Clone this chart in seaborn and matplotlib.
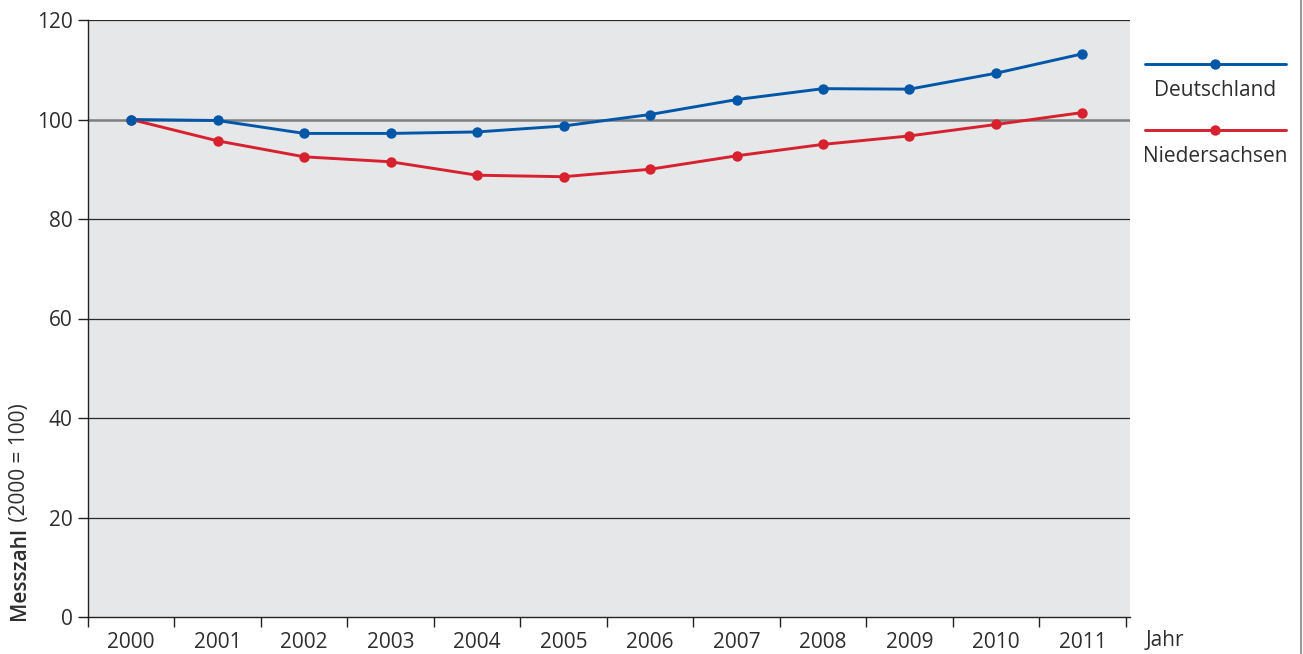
import numpy as np
import pandas as pd
import seaborn as sns
import matplotlib.pyplot as plt
from matplotlib.lines import Line2D
from matplotlib.ticker import FixedLocator

# Data (Messzahl, 2000 = 100)
years = [2000, 2001, 2002, 2003, 2004, 2005, 2006, 2007, 2008, 2009, 2010, 2011]
deutschland = [100.0, 99.8, 97.2, 97.2, 97.5, 98.7, 101.0, 104.0, 106.2, 106.1, 109.3, 113.2]
niedersachsen = [100.0, 95.7, 92.5, 91.5, 88.8, 88.5, 90.0, 92.7, 95.0, 96.7, 99.0, 101.4]
series_names = ["Deutschland", "Niedersachsen"]
y_ticks = [0, 20, 40, 60, 80, 100, 120]

BLUE = "#0057a8"
RED = "#d7212e"
TEXT = "#2e2e2e"


def main():
    sns.set_theme(style="white")
    plt.rcParams["font.family"] = ["Open Sans", "DejaVu Sans"]

    df = pd.DataFrame({
        "pos": list(range(len(years))) * 2,
        "wert": deutschland + niedersachsen,
        "region": [series_names[0]] * len(years) + [series_names[1]] * len(years),
    })

    W, H = 1303, 654
    fig = plt.figure(figsize=(W / 100, H / 100), dpi=100)
    ax = fig.add_axes([88 / W, 1 - 617 / H, (1130 - 88) / W, (617 - 20) / H])
    ax.set_facecolor("#e6e7e9")

    # Gridlines
    for t in y_ticks[1:]:
        if t == 100:
            ax.axhline(t, color="#7f7f7f", lw=1.8, zorder=1)
        else:
            ax.axhline(t, color="#2b2b2b", lw=0.9, zorder=1)

    palette = {series_names[0]: BLUE, series_names[1]: RED}
    sns.lineplot(data=df, x="pos", y="wert", hue="region",
                 hue_order=[series_names[1], series_names[0]],
                 palette=palette, marker="o", markersize=7.5,
                 markeredgewidth=0, linewidth=2.1, legend=False,
                 ax=ax, zorder=3)

    ax.set_xlim(-0.5, 11.55)
    ax.set_ylim(0, 120)
    ax.set_yticks(y_ticks)
    ax.set_yticklabels([str(t) for t in y_ticks], fontsize=15, color=TEXT)

    # category boundaries as major ticks, labels on minor ticks
    ax.xaxis.set_major_locator(FixedLocator(np.arange(-0.5, len(years), 1.0)))
    ax.xaxis.set_major_formatter(plt.NullFormatter())
    ax.xaxis.set_minor_locator(FixedLocator(np.arange(len(years))))
    ax.set_xticklabels([str(y) for y in years], minor=True, fontsize=15, color=TEXT)
    ax.tick_params(axis="x", which="major", direction="out", length=7, width=1, color="#222222", bottom=True)
    ax.tick_params(axis="x", which="minor", length=0, pad=11, bottom=True)
    ax.tick_params(axis="y", direction="out", length=7, width=1, color="#222222", left=True, pad=4)
    ax.set_xlabel("")
    ax.set_ylabel("")

    for s in ["top", "right"]:
        ax.spines[s].set_visible(False)
    for s in ["left", "bottom"]:
        ax.spines[s].set_color("#222222")
        ax.spines[s].set_linewidth(1.0)

    # x-axis label "Jahr"
    fig.text(1146 / W, 1 - 641 / H, "Jahr", fontsize=15,
             color=TEXT, ha="left", va="center")

    # y-axis label, two weights
    t1 = fig.text(20 / W, 1 - 620 / H, "Messzahl", rotation=90, fontsize=15,
                  fontweight="semibold", color=TEXT, ha="center", va="bottom")
    ax.annotate(" (2000 = 100)", xy=(0.5, 1), xycoords=t1, rotation=90, fontsize=15,
                color=TEXT, ha="center", va="bottom")

    # custom legend: line + dot, label below
    legend_items = [(series_names[0], BLUE, 64, 90), (series_names[1], RED, 130, 157)]
    for name, col, ly, ty in legend_items:
        fig.add_artist(Line2D([1145 / W, 1286 / W], [1 - ly / H, 1 - ly / H],
                              transform=fig.transFigure, color=col, lw=2.1))
        fig.add_artist(Line2D([1215 / W], [1 - ly / H], transform=fig.transFigure,
                              color=col, marker="o", markersize=7.5, markeredgewidth=0))
        fig.text(1215 / W, 1 - ty / H, name, fontsize=15, color=TEXT,
                 ha="center", va="center")

    # right border line
    fig.add_artist(Line2D([1300.5 / W, 1300.5 / W], [0, 1], transform=fig.transFigure,
                          color="#9a9a9a", lw=1.5))

    fig.savefig("out.png", dpi=100)
    plt.close(fig)


if __name__ == "__main__":
    main()
